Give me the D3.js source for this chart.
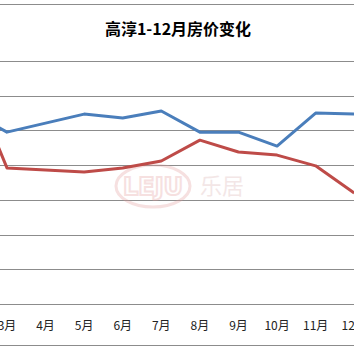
<!DOCTYPE html>
<html>
<head>
<meta charset="utf-8">
<script src="https://cdn.jsdelivr.net/npm/d3@7"></script>
<style>
  body { margin: 0; background: #fff; }
  svg { display: block; }
</style>
</head>
<body>
<script>
// data (y axis is cropped, so the scale is an estimate)
var months = ["1月", "2月", "3月", "4月", "5月", "6月", "7月", "8月", "9月", "10月", "11月", "12月"];
var seriesA = [9450, 9590, 8950, 9210, 9470, 9360, 9560, 8950, 8950, 8550, 9500, 9470];
var seriesB = [10150, 10620, 7920, 7860, 7800, 7920, 8120, 8720, 8380, 8290, 7980, 7200];
var yTicks = [4000, 5000, 6000, 7000, 8000, 9000, 10000, 11000];
var title = "高淳1-12月房价变化";

var width = 354;
var height = 354;

var svg = d3.select("body")
    .append("svg")
    .attr("width", width)
    .attr("height", height);

// plot area runs past both edges of the crop
const x = d3.scaleBand()
    .domain(months)
    .range([-89.5, 373.5]);

const y = d3.scaleLinear()
    .domain([4000, 11000])
    .range([304, 61]);

// outer border lines
[4, 345].forEach(function (yy) {
    svg.append("line")
        .attr("x1", 0).attr("x2", width)
        .attr("y1", yy + 0.5).attr("y2", yy + 0.5)
        .attr("stroke", "#8c8c8c")
        .attr("stroke-width", 1);
});

svg.append("text")
    .attr("x", width / 2 + 1)
    .attr("y", 35)
    .attr("text-anchor", "middle")
    .attr("font-family", "'Noto Sans CJK SC', sans-serif")
    .attr("font-weight", "bold")
    .attr("font-size", 16)
    .attr("fill", "#000")
    .text(title);

// gridlines
svg.append("g")
    .selectAll("line")
    .data(yTicks)
    .enter()
    .append("line")
    .attr("x1", 0).attr("x2", width)
    .attr("y1", d => Math.round(y(d)) + 0.5)
    .attr("y2", d => Math.round(y(d)) + 0.5)
    .attr("stroke", "#8c8c8c")
    .attr("stroke-width", 1);

// watermark
var wm = svg.append("g").attr("opacity", 0.3);
wm.append("ellipse")
    .attr("cx", 153).attr("cy", 186)
    .attr("rx", 37).attr("ry", 21)
    .attr("fill", "none")
    .attr("stroke", "#e39a9a")
    .attr("stroke-width", 3);
wm.append("text")
    .attr("x", 153).attr("y", 195)
    .attr("text-anchor", "middle")
    .attr("font-family", "'DejaVu Sans', sans-serif")
    .attr("font-weight", "bold")
    .attr("font-size", 24)
    .attr("fill", "none")
    .attr("stroke", "#e39a9a")
    .attr("stroke-width", 2)
    .text("LEJU");
wm.append("text")
    .attr("x", 200).attr("y", 194)
    .attr("font-family", "'Noto Sans CJK SC', sans-serif")
    .attr("font-size", 22)
    .attr("fill", "#d8b0b0")
    .text("乐居");

var line = d3.line()
    .x((d, i) => x(months[i]) + x.bandwidth() / 2)
    .y(d => y(d));

svg.append("path")
    .datum(seriesB)
    .attr("d", line)
    .attr("fill", "none")
    .attr("stroke", "#be4b48")
    .attr("stroke-width", 3)
    .attr("stroke-linejoin", "round");

svg.append("path")
    .datum(seriesA)
    .attr("d", line)
    .attr("fill", "none")
    .attr("stroke", "#4a7ebb")
    .attr("stroke-width", 3)
    .attr("stroke-linejoin", "round");

// month labels
var xAxis = d3.axisBottom(x).tickSize(0).tickPadding(0);
var gx = svg.append("g")
    .attr("transform", "translate(0, 304)")
    .call(xAxis);
gx.select(".domain").remove();
gx.selectAll("text")
    .attr("y", 26)
    .attr("dy", 0)
    .attr("font-family", "'Noto Sans CJK SC', sans-serif")
    .attr("font-size", 12)
    .attr("fill", "#222");
</script>
</body>
</html>
